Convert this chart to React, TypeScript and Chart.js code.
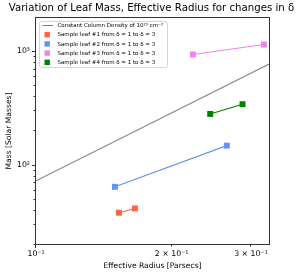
import React, { useEffect, useRef } from 'react';
import { Chart, registerables } from 'chart.js';
Chart.register(...registerables);

const TITLE = 'Variation of Leaf Mass, Effective Radius for changes in δ';
const X_LABEL = 'Effective Radius [Parsecs]';
const Y_LABEL = 'Mass [Solar Masses]';

const densityR = [0.1, 0.33];
const densityM = [72, 770];
const leaf1R = [0.1528, 0.1658];
const leaf1M = [37.7, 41.1];
const leaf2R = [0.1497, 0.2652];
const leaf2M = [63.7, 146.8];
const leaf3R = [0.223, 0.3205];
const leaf3M = [930, 1138];
const leaf4R = [0.2436, 0.2874];
const leaf4M = [279, 340];

const legendLabels = [
  'Constant Column Density of 10²³ cm⁻²',
  'Sample leaf #1 from δ = 1 to δ = 3',
  'Sample leaf #2 from δ = 1 to δ = 3',
  'Sample leaf #3 from δ = 1 to δ = 3',
  'Sample leaf #4 from δ = 1 to δ = 3',
];
const colors = ['#808080', '#FF6347', '#6495ED', '#EE82EE', '#008000'];

const xTicks = [0.1, 0.2, 0.3];
const xTickLabels = ['10⁻¹', '2 × 10⁻¹', '3 × 10⁻¹'];
const yMajor = [100, 1000];
const yMajorLabels = ['10²', '10³'];
const yMinor = [20, 30, 40, 50, 60, 70, 80, 90, 200, 300, 400, 500, 600, 700, 800, 900];

const X_MIN = 0.1, X_MAX = 0.329, Y_MIN = 20, Y_MAX = 1950;
const FONT = '"DejaVu Sans", sans-serif';

const pts = (xs: number[], ys: number[]) => xs.map((x, i) => ({ x, y: ys[i] }));

const decor = {
  id: 'decor',
  afterDraw(chart: any) {
    const ctx = chart.ctx;
    const a = chart.chartArea;
    const xs = chart.scales.x, ys = chart.scales.y;
    ctx.save();
    // frame
    ctx.strokeStyle = '#333';
    ctx.lineWidth = 1;
    ctx.strokeRect(Math.round(a.left) - 0.5, Math.round(a.top) - 0.5, Math.round(a.right - a.left) + 1, Math.round(a.bottom - a.top) + 1);
    // ticks
    ctx.beginPath();
    yMajor.forEach(v => { const p = Math.round(ys.getPixelForValue(v)) + 0.5; ctx.moveTo(a.left - 0.5, p); ctx.lineTo(a.left - 4, p); });
    yMinor.forEach(v => { const p = Math.round(ys.getPixelForValue(v)) + 0.5; ctx.moveTo(a.left - 0.5, p); ctx.lineTo(a.left - 2.5, p); });
    xTicks.forEach((v, i) => { const p = Math.round(xs.getPixelForValue(v)) - 0.5; ctx.moveTo(p, a.bottom + 0.5); ctx.lineTo(p, a.bottom + (i === 0 ? 4 : 2.5)); });
    ctx.stroke();
    // title
    ctx.fillStyle = '#000';
    ctx.font = `10.2px ${FONT}`;
    ctx.textAlign = 'center';
    ctx.textBaseline = 'middle';
    ctx.fillText(TITLE, 151.5, 8);
    // legend
    const lx = a.left + 3.5, ly = a.top + 3.5, lw = 128, lh = 46;
    ctx.fillStyle = 'rgba(255,255,255,0.85)';
    ctx.strokeStyle = '#d6d6d6';
    ctx.lineWidth = 1;
    ctx.beginPath();
    ctx.roundRect(lx, ly, lw, lh, 2);
    ctx.fill();
    ctx.stroke();
    ctx.font = `5.5px ${FONT}`;
    ctx.textAlign = 'left';
    legendLabels.forEach((t, i) => {
      const cy = ly + 4 + i * 9.2;
      if (i === 0) {
        ctx.strokeStyle = colors[0];
        ctx.lineWidth = 1;
        ctx.beginPath();
        ctx.moveTo(lx + 3, cy);
        ctx.lineTo(lx + 13.5, cy);
        ctx.stroke();
      } else {
        ctx.fillStyle = colors[i];
        ctx.fillRect(lx + 5, cy - 2.7, 5.4, 5.4);
      }
      ctx.fillStyle = '#000';
      ctx.fillText(t, lx + 18, cy + 0.3);
    });
    ctx.restore();
  },
};

export default function App() {
  const ref = useRef<HTMLCanvasElement>(null);
  useEffect(() => {
    const mk = (label: string, xs: number[], ys: number[], c: string, marker: boolean) => ({
      label,
      data: pts(xs, ys),
      borderColor: c,
      backgroundColor: c,
      borderWidth: 1.1,
      pointStyle: 'rect',
      pointRadius: marker ? 4.2 : 0,
      pointBorderWidth: 0,
      pointHoverRadius: marker ? 4.2 : 0,
      showLine: true,
      tension: 0,
    });
    const chart = new Chart(ref.current!, {
      type: 'scatter',
      data: {
        datasets: [
          mk(legendLabels[0], densityR, densityM, colors[0], false),
          mk(legendLabels[1], leaf1R, leaf1M, colors[1], true),
          mk(legendLabels[2], leaf2R, leaf2M, colors[2], true),
          mk(legendLabels[3], leaf3R, leaf3M, colors[3], true),
          mk(legendLabels[4], leaf4R, leaf4M, colors[4], true),
        ] as any,
      },
      options: {
        animation: false,
        responsive: false,
        devicePixelRatio: 1,
        layout: { padding: { left: 0, right: 30, top: 18, bottom: 0 } },
        plugins: { legend: { display: false }, title: { display: false }, tooltip: { enabled: false } },
        scales: {
          x: {
            type: 'logarithmic',
            min: X_MIN,
            max: X_MAX,
            grid: { display: false, drawTicks: false },
            border: { display: false },
            afterBuildTicks: (s: any) => { s.ticks = xTicks.map(v => ({ value: v })); },
            afterFit: (s: any) => { s.height = 29; },
            ticks: {
              autoSkip: false,
              maxRotation: 0,
              padding: 5,
              color: '#000',
              font: { family: FONT, size: 7.8 },
              callback: (v: any) => { const i = xTicks.indexOf(Number(v)); return i >= 0 ? xTickLabels[i] : ''; },
            },
            title: { display: true, text: X_LABEL, color: '#000', font: { family: FONT, size: 7.6 }, padding: { top: 0, bottom: 2 } },
          },
          y: {
            type: 'logarithmic',
            min: Y_MIN,
            max: Y_MAX,
            grid: { display: false, drawTicks: false },
            border: { display: false },
            afterBuildTicks: (s: any) => { s.ticks = yMajor.map(v => ({ value: v })); },
            afterFit: (s: any) => { s.width = 36; },
            ticks: {
              autoSkip: false,
              padding: 6,
              color: '#000',
              font: { family: FONT, size: 7.8 },
              callback: (v: any) => { const i = yMajor.indexOf(Number(v)); return i >= 0 ? yMajorLabels[i] : ''; },
            },
            title: { display: true, text: Y_LABEL, color: '#000', font: { family: FONT, size: 7.6 }, padding: { top: 4, bottom: 0 } },
          },
        },
      } as any,
      plugins: [decor],
    });
    return () => chart.destroy();
  }, []);
  return (
    <div style={{ position: 'fixed', left: 0, top: 0, width: 299, height: 273, background: '#fff' }}>
      <canvas ref={ref} width={299} height={273} style={{ width: 299, height: 273, display: 'block' }} />
    </div>
  );
}
